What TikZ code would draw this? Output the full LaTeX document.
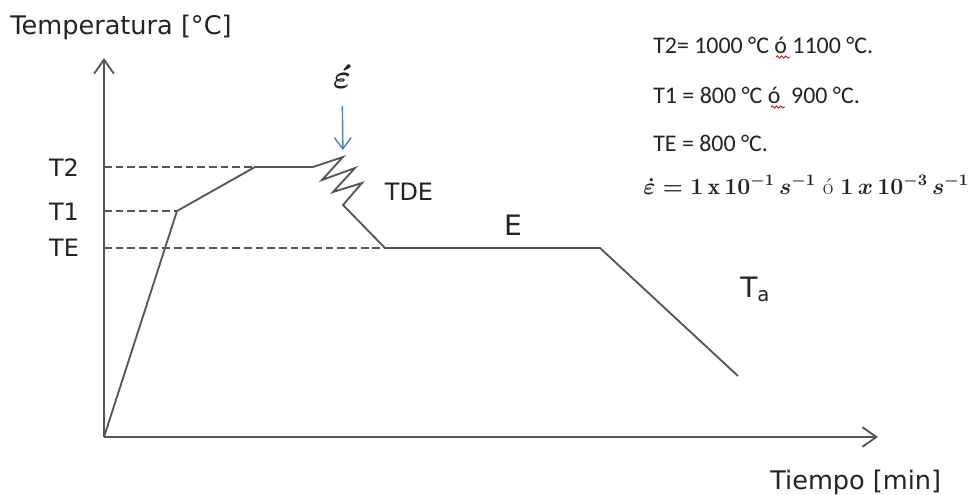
\RequirePackage{fix-cm}
\documentclass[tikz,border=0pt]{standalone}
\usepackage{amsmath}
\usepackage{fontspec}
\usepackage{tikz}
\usetikzlibrary{arrows.meta,positioning,decorations.pathmorphing}
\newfontfamily\verd{DejaVu Sans}
\newfontfamily\calib{Carlito}
\definecolor{linegray}{RGB}{85,85,85}
\definecolor{txtgray}{RGB}{35,35,35}
\definecolor{strainblue}{RGB}{79,129,189}
\tikzset{
  axis/.style={-{Straight Barb[length=10pt,width=14pt]}, line width=1.3pt, draw=linegray},
  curve/.style={line width=1.3pt, draw=linegray, line join=miter},
  guide/.style={dash pattern=on 5.5pt off 2.8pt, line width=0.9pt, draw=linegray},
  strain/.style={-{Straight Barb[length=8pt,width=12pt]}, line width=1pt, draw=strainblue},
  lbl/.style={inner sep=0pt, text=txtgray, font=\verd\fontsize{17}{20}\selectfont},
  axlbl/.style={inner sep=0pt, anchor=base west, text=txtgray, font=\verd\fontsize{18.2}{22}\selectfont},
  biglbl/.style={inner sep=0pt, text=txtgray, font=\verd\fontsize{20}{24}\selectfont},
  note/.style={inner sep=0pt, anchor=base west, text=txtgray, font=\calib\fontsize{17}{20}\selectfont},
  spell/.style={draw=red!80!black, line width=0.6pt, decorate, decoration={snake, amplitude=0.8pt, segment length=3pt}}
}

\begin{document}
\begin{tikzpicture}[x=0.025cm,y=-0.025cm]
\useasboundingbox (0,0) rectangle (973,494);
\coordinate (o) at (104,437);
\coordinate (ytop) at (104,58);
\coordinate (xend) at (878,437);
\draw[axis] (o) -- (ytop);
\draw[axis] (o) -- (xend);
\node[axlbl] (ylab) at (10,34) {Temperatura [°C]};
\node[axlbl] (xlab) at (770,489) {Tiempo [min]};
\coordinate (p1) at (177,211);
\coordinate (p2) at (255,167);
\coordinate (p3) at (313,167);
\coordinate (z1) at (343,157);
\coordinate (z2) at (322,180);
\coordinate (z3) at (355,168);
\coordinate (z4) at (333,192);
\coordinate (z5) at (362,183);
\coordinate (z6) at (343,205);
\coordinate (p4) at (385,248);
\coordinate (p5) at (600,248);
\coordinate (p6) at (738,376);
\coordinate (y2) at (104,167);
\coordinate (y1) at (104,211);
\coordinate (ye) at (104,248);
\draw[guide] (y2) -- (p2);
\draw[guide] (y1) -- (p1);
\draw[guide] (ye) -- (p4);
\draw[curve] (o) -- (p1) -- (p2) -- (p3) -- (z1) -- (z2) -- (z3) -- (z4) -- (z5) -- (z6) -- (p4) -- (p5) -- (p6);
\node[lbl] (t2) at (64,168) {T2};
\node[lbl] (t1) at (64,212) {T1};
\node[lbl] (te) at (64,248) {TE};
\node[lbl] (tde) at (409,192) {TDE};
\node[biglbl] (e) at (513,225) {E};
\node[biglbl, anchor=base west] (ta) at (740,297) {T\textsubscript{a}};
\node[inner sep=0pt, text=txtgray, font=\fontsize{24}{28}\selectfont\boldmath] (eps) at (342,77) {$\acute{\varepsilon}$};
\draw[strain, shorten <=12pt, shorten >=5pt] (eps) -- (z1);
\node[note] (n1) at (653,53) {T2= 1000 °C ó 1100 °C.};
\node[note] (n2) at (653,103) {T1 = 800 °C ó \ 900 °C.};
\node[note] (n3) at (653,151) {TE = 800 °C.};
\node[note, font=\fontsize{16.4}{20}\selectfont\boldmath] (n4) at (643,194) {$\dot{\varepsilon} = 1\,\mathrm{x}\,10^{-1}\,s^{-1}$ ó $1\,x\,10^{-3}\,s^{-1}$};
\draw[spell] (776,57) -- (790,57);
\draw[spell] (771,107) -- (785,107);
\end{tikzpicture}
\end{document}
